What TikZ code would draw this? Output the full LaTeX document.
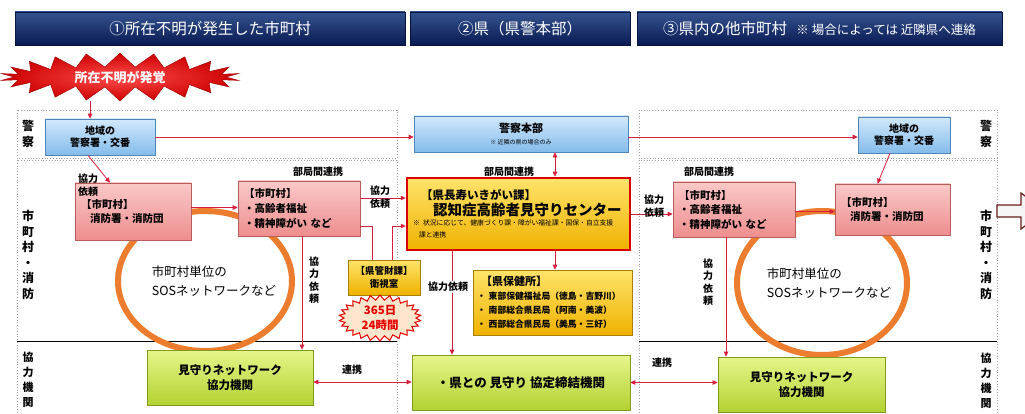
\documentclass[tikz,border=0pt]{standalone}
\usepackage{fontspec}
\setmainfont{Noto Sans CJK JP}
\usetikzlibrary{shapes.symbols,shadows,arrows.meta,calc}
\definecolor{hdrT}{HTML}{34538F}
\definecolor{hdrB}{HTML}{0A1A52}
\definecolor{hdrD}{HTML}{061240}
\definecolor{polT}{HTML}{D2E9FB}
\definecolor{polB}{HTML}{84BCEB}
\definecolor{polD}{HTML}{4F85B8}
\definecolor{pnkT}{HTML}{FAC8C8}
\definecolor{pnkB}{HTML}{EE8E8E}
\definecolor{pnkD}{HTML}{B85C5C}
\definecolor{yelT}{HTML}{FFE36A}
\definecolor{yelB}{HTML}{EFB200}
\definecolor{yelD}{HTML}{A88000}
\definecolor{grnT}{HTML}{E6F58A}
\definecolor{grnB}{HTML}{B2D232}
\definecolor{grnD}{HTML}{7F9A1E}
\definecolor{lnred}{HTML}{D91E3C}
\definecolor{ringc}{HTML}{EC7D2F}
\definecolor{darkred}{HTML}{6A1A1A}
\newcommand\fsz[2]{\fontsize{#1}{#2}\selectfont}
\begin{document}
\begin{tikzpicture}[x=1pt,y=-1pt,
  shad/.style={drop shadow={shadow xshift=1.3pt,shadow yshift=-1.3pt,opacity=.35}},
  hdr/.style={rectangle,top color=hdrT,bottom color=hdrB,draw=hdrD,text=white,font=\fsz{15.5}{18},minimum height=33pt,shad},
  polbox/.style={rectangle,top color=polT,bottom color=polB,draw=polD,line width=0.6pt,align=center,font=\fsz{10}{12}\bfseries,inner sep=2pt,shad},
  pinkbox/.style={rectangle,top color=pnkT,bottom color=pnkB,draw=pnkD,line width=0.6pt,align=left,font=\fsz{10.5}{14.5}\bfseries,inner sep=6pt,shad},
  yelbox/.style={rectangle,top color=yelT,bottom color=yelB,draw=yelD,line width=0.6pt,shad},
  grnbox/.style={rectangle,top color=grnT,bottom color=grnB,draw=grnD,line width=0.6pt,align=center,font=\fsz{11.5}{14.5}\bfseries,shad},
  arr/.style={draw=lnred,line width=0.8pt,-{Triangle[length=5pt,width=4.5pt]}},
  arrtwo/.style={draw=lnred,line width=0.8pt,{Triangle[length=5pt,width=4.5pt]}-{Triangle[length=5pt,width=4.5pt]}},
  plainln/.style={draw=lnred,line width=0.8pt},
  lbl/.style={font=\fsz{10}{13}\bfseries,align=center,inner sep=1pt},
  sidelbl/.style={font=\fsz{12}{15.5}\bfseries,align=center,inner sep=0pt},
  panelframe/.style={draw=gray!75,dotted,line width=0.8pt},
  ring/.style={draw=ringc,line width=6pt},
  ringtxt/.style={font=\fsz{12.5}{19},align=left,inner sep=0pt}]
\useasboundingbox (0,0) rectangle (1025,414);
\clip (0,0) rectangle (1025,414);
\fill[white] (0,0) rectangle (1025,414);

% headers
\node[hdr,minimum width=390pt] (h1) at (210,28.5) {①所在不明が発生した市町村};
\node[hdr,minimum width=220pt] (h2) at (520,28.5) {②県（県警本部）};
\node[hdr,minimum width=365pt] (h3) at (819.5,28.5) {③県内の他市町村\hspace{0.6em}{\fsz{12.5}{14}※ 場合によっては 近隣県へ連絡}};

% panels
\draw[panelframe] (17,110) rectangle (397,158);
\draw[panelframe] (17,160) rectangle (397,418);
\draw[black,line width=0.6pt] (17,341) -- (397,341);
\draw[panelframe] (639,110) rectangle (997,158);
\draw[panelframe] (639,160) rectangle (997,418);
\draw[black,line width=0.6pt] (639,341) -- (997,341);

% side labels
\node[sidelbl] (lkei) at (28,134) {警\\察};
\node[sidelbl] (rkei) at (986,134) {警\\察};
\node[sidelbl] (lshi) at (28,255) {市\\町\\村\\・\\消\\防};
\node[sidelbl] (rshi) at (986,255) {市\\町\\村\\・\\消\\防};
\node[sidelbl,font=\fsz{11}{15}\bfseries] (lkyo) at (28,380) {協\\力\\機\\関};
\node[sidelbl,font=\fsz{11}{15}\bfseries] (rkyo) at (986,381) {協\\力\\機\\関};

% rings
\draw[ring] (205,281) ellipse [x radius=87, y radius=70];
\draw[ring] (822,283) ellipse [x radius=85, y radius=72];
\node[ringtxt] (lringt) at (214,281) {市町村単位の\\SOSネットワークなど};
\node[ringtxt] (rringt) at (829,283) {市町村単位の\\SOSネットワークなど};

% starburst
\node[starburst,starburst points=22,starburst point height=14pt,random starburst=0,
      minimum width=240pt,minimum height=48pt,inner sep=0pt,
      shading=radial,inner color=red!70!white,outer color=red!80!black,draw=red!60!black,
      text=white,font=\fsz{13}{15}\bfseries] (burst) at (120,77) {所在不明が発覚};

% police boxes
\node[polbox,minimum width=110pt,minimum height=36pt] (lpol) at (100,137) {地域の\\警察署・交番};
\node[polbox,minimum width=214pt,minimum height=36pt] (hq) at (521,134) {{\fsz{11}{13}警察本部}\\{\fsz{6}{8}\mdseries ※ 近隣の県の場合のみ}};
\node[polbox,minimum width=92pt,minimum height=36pt] (rpol) at (904,135) {地域の\\警察署・交番};

% municipal boxes
\node[pinkbox,minimum width=116pt,minimum height=57pt,text width=104pt] (lfire) at (133,211.5) {【市町村】\\\hspace*{9pt}消防署・消防団};
\node[pinkbox,minimum width=122pt,minimum height=55pt,text width=110pt] (lcity) at (299,208.5) {【市町村】\\・高齢者福祉\\・精神障がい など};
\node[pinkbox,minimum width=122pt,minimum height=55pt,text width=110pt] (rcity) at (734,209.5) {【市町村】\\・高齢者福祉\\・精神障がい など};
\node[pinkbox,minimum width=115pt,minimum height=51pt,text width=103pt] (rfire) at (892.5,209.5) {【市町村】\\\hspace*{9pt}消防署・消防団};

% centre box
\node[yelbox,draw=red!85!black,line width=2.5pt,minimum width=223pt,minimum height=72pt,text width=211pt,inner sep=5pt,align=left] (center) at (518.5,214)
  {{\fsz{11.5}{14}\bfseries\hspace*{8pt}【県長寿いきがい課】}\\[1pt]
   {\fsz{14.5}{17}\bfseries\hspace*{20pt}認知症高齢者見守りセンター}\\
   {\fsz{6.8}{10}※ 状況に応じて、健康づくり課・障がい福祉課・国保・自立支援\\\hspace*{6pt}課と連携}};

\node[yelbox,minimum width=72pt,minimum height=35pt,inner sep=1pt,align=center,font=\fsz{9.5}{12.5}\bfseries] (eishi) at (384,277.5) {【県管財課】\\衛視室};
\node[starburst,starburst points=26,starburst point height=5pt,random starburst=0,
      minimum width=82pt,minimum height=46pt,inner sep=0pt,fill=orange!20!white,draw=red!90!black,line width=1pt,
      align=center,text=red!90!black,font=\fsz{11.5}{15}\bfseries] (h365) at (380,318) {365日\\24時間};
\node[yelbox,minimum width=159pt,minimum height=65pt,text width=151pt,inner sep=4pt,align=left,font=\fsz{8.8}{14}\bfseries] (hoken) at (552.5,302.5)
  {{\fsz{11}{14}\hspace*{4pt}【県保健所】}\\・ 東部保健福祉局（徳島・吉野川）\\・ 南部総合県民局（阿南・美波）\\・ 西部総合県民局（美馬・三好）};

% cooperating bodies
\node[grnbox,minimum width=166pt,minimum height=55pt] (lmim) at (230,377.5) {見守りネットワーク\\協力機関};
\node[grnbox,minimum width=218pt,minimum height=55pt,font=\fsz{12.5}{15}\bfseries] (kyotei) at (521,382.5) {・県との 見守り 協定締結機関};
\node[grnbox,minimum width=167pt,minimum height=55pt] (rmim) at (801.5,384.5) {見守りネットワーク\\協力機関};

% connectors
\draw[arr] ([xshift=-30pt]burst.center |- burst.south) -- ([xshift=-10pt]lpol.north);
\draw[arr] (lpol.east) -- (lpol.east -| hq.west);
\draw[arr] ([yshift=-3pt]hq.east) -- ([yshift=-3pt]hq.east -| rpol.west);
\draw[arr] ([xshift=-12pt]lpol.south) -- ([xshift=-23pt]lfire.north);
\draw[arr] ([xshift=-14pt]rpol.south) -- ([xshift=-15pt]rfire.north);
\draw[arr] ([yshift=4pt]lfire.east) -- ([yshift=4pt]lfire.east -| lcity.west);
\draw[arr] ([yshift=10.5pt]lcity.east) -- ([yshift=10.5pt]lcity.east -| center.west);
\draw[plainln] ([yshift=-17.5pt]lcity.east) -| ([xshift=-12pt]eishi.north);
\draw[arr] ([xshift=8pt]eishi.north) |- ([yshift=-12pt]center.west);
\draw[arrtwo] ([xshift=34pt]hq.south) -- ([xshift=34pt]hq.south |- center.north);
\draw[arr] ([xshift=36.5pt]center.south) -- ([xshift=36.5pt]center.south |- hoken.north);
\draw[arr] ([xshift=-66.5pt]center.south) -- ([xshift=-66.5pt]center.south |- kyotei.north);
\draw[arr] ([xshift=3pt]lcity.south) -- ([xshift=3pt]lcity.south |- lmim.north);
\draw[arr] (center.east) -- (center.east -| rcity.west);
\draw[arr] ([yshift=-2pt]rcity.east) -- ([yshift=-2pt]rcity.east -| rfire.west);
\draw[arr] ([xshift=-8pt]rcity.south) -- ([xshift=-8pt]rcity.south |- rmim.north);
\draw[arrtwo] ([yshift=-4.5pt]lmim.east) -- ([yshift=-4.5pt]lmim.east -| kyotei.west);
\draw[arrtwo] (kyotei.east) -- (kyotei.east -| rmim.west);

% connector labels
\node[lbl,align=left] (l1) at (88,185) {協力\\依頼};
\node[lbl] (l2) at (318,172) {部局間連携};
\node[lbl] (l3) at (380,197) {協力\\依頼};
\node[lbl] (l4) at (509,172) {部局間連携};
\node[lbl,fill=white] (l5) at (448,287) {協力依頼};
\node[lbl,font=\fsz{10}{12.5}\bfseries] (l6) at (314,280) {協\\力\\依\\頼};
\node[lbl,font=\fsz{10}{12.5}\bfseries] (l7) at (708,282) {協\\力\\依\\頼};
\node[lbl] (l8) at (352,370) {連携};
\node[lbl] (l9) at (662,363) {連携};
\node[lbl] (l10) at (654,206) {協力\\依頼};
\node[lbl] (l11) at (709,172) {部局間連携};

% hollow arrow at right edge
\filldraw[fill=gray!8,draw=darkred,line width=1.2pt] (997,205) -- (1021,205) -- (1021,193) -- (1045,211) -- (1021,229) -- (1021,217) -- (997,217) -- cycle;
\end{tikzpicture}
\end{document}
